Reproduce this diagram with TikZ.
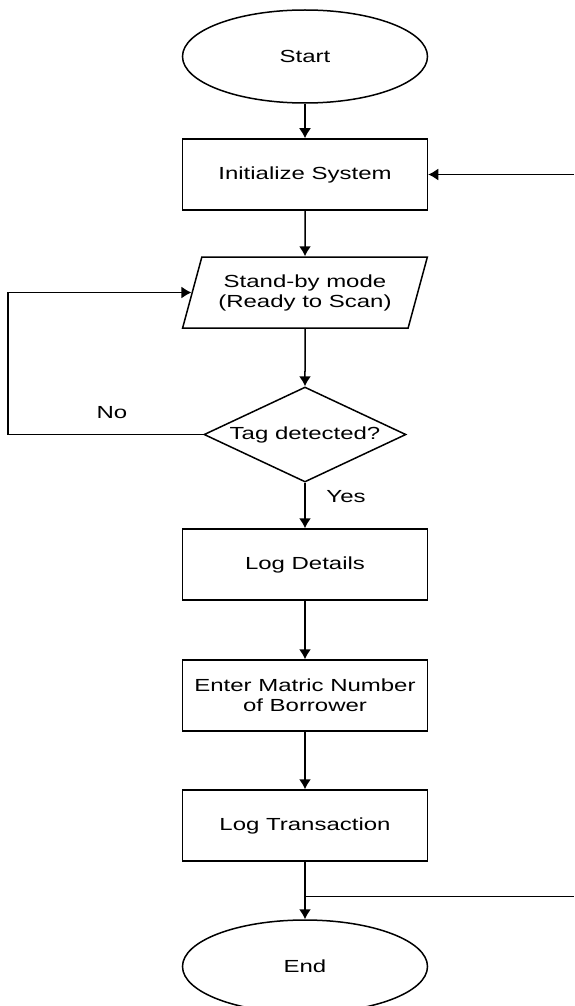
\documentclass[tikz,border=0pt]{standalone}
\usepackage{fontspec}
\setmainfont{Liberation Sans}[FakeStretch=1.37]
\usetikzlibrary{shapes.geometric,positioning,arrows.meta}

\begin{document}
\begin{tikzpicture}[
  x=0.5pt,y=-0.5pt,
  font=\fontsize{8.75}{10}\selectfont,
  line width=0.75pt,
  process/.style={draw,rectangle,minimum width=122.5pt,minimum height=35.5pt,align=center,inner sep=0pt},
  terminal/.style={draw,ellipse,minimum width=122.5pt,minimum height=46.5pt,inner sep=0pt},
  inout/.style={draw,trapezium,trapezium left angle=66,trapezium right angle=114,
    trapezium stretches=true,minimum width=122.5pt,minimum height=35.5pt,align=center,inner sep=0pt},
  decision/.style={draw,diamond,aspect=2.17,minimum width=101pt,minimum height=47.5pt,inner sep=0pt},
  flow/.style={-{Latex[width=6pt,length=5pt]}}
]
\useasboundingbox (0,0) rectangle (574,1006);

\node[terminal] (start) at (305,56.5) {Start};
\node[process,below=17.25pt of start] (init) {Initialize System};
\node[inout,below=22.75pt of init] (standby) {Stand-by mode\\(Ready to Scan)};
\node[decision,below=28.75pt of standby] (tag) {Tag detected?};
\node[process,below=22.75pt of tag] (logd) {Log Details};
\node[process,below=29.25pt of logd] (matric) {Enter Matric Number\\of Borrower};
\node[process,below=28.75pt of matric] (logt) {Log Transaction};
\node[terminal,below=28.75pt of logt] (end) {End};

\node (no) at (112,413) {No};
\node (yes) at (346,497) {Yes};

% edges of the page
\coordinate (ledge) at (8,0);
\coordinate (redge) at (574,0);
\coordinate[below=17.25pt of logt.south] (branch);

\path (start) edge[flow] (init)
(init) edge[flow] (standby)
(standby) edge[flow] (tag)
(tag) edge[flow] (logd)
(logd) edge[flow] (matric)
(matric) edge[flow] (logt)
(logt) edge[flow] (end)
;

\draw[flow] (tag.west) -- (tag.west -| ledge) -- (standby.west -| ledge) -- (standby.west);
\draw[flow] (init.east -| redge) -- (init.east);
\draw (branch) -- (branch -| redge);

\end{tikzpicture}
\end{document}
